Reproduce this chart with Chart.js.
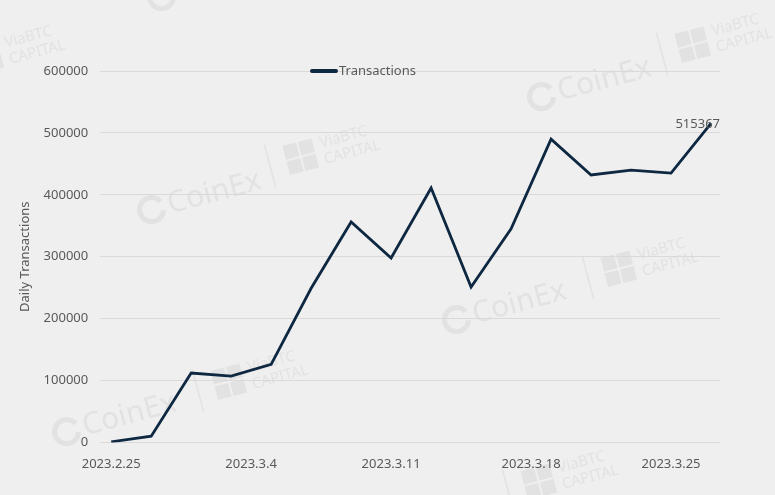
<!DOCTYPE html>
<html>
<head>
<meta charset="utf-8">
<script src="https://cdn.jsdelivr.net/npm/chart.js@4"></script>
<style>
  html, body { margin: 0; padding: 0; background: #efefef; }
  #wrap { width: 775px; height: 495px; position: relative; }
</style>
</head>
<body>
<div id="wrap"><canvas id="txChart"></canvas></div>
<script>
// days since 2023.2.25 (one reading every 2 days)
const dayOffsets = [0, 2, 4, 6, 8, 10, 12, 14, 16, 18, 20, 22, 24, 26, 28, 30];
const transactions = [1000, 10000, 112000, 107000, 126000, 249000, 356000, 298000,
                      411000, 251000, 345000, 490000, 432000, 440000, 435000, 515367];
const tickDays = [0, 7, 14, 21, 28];
const tickLabels = ['2023.2.25', '2023.3.4', '2023.3.11', '2023.3.18', '2023.3.25'];

const textColor = '#595959';
const lineColor = '#0e2841';
const fontFamily = '"Noto Sans", Roboto, sans-serif';

// faint watermarks behind the chart
const watermarkPlugin = {
  id: 'watermarks',
  beforeDraw(chart) {
    const c = chart.ctx;
    const marks = [
      ['coinex', 195, 198], ['via', 330, 150],
      ['coinex', 500, 308], ['via', 648, 262],
      ['coinex', 585, 85], ['via', 722, 38],
      ['coinex', 110, 420], ['via', 258, 375],
      ['via', 15, 50], ['via', 568, 475], ['coinex', 205, -15]
    ];
    c.save();
    marks.forEach(([kind, x, y]) => {
      c.save();
      c.translate(x, y);
      c.rotate(-0.26);
      c.fillStyle = '#e2e2e2';
      c.strokeStyle = '#e2e2e2';
      if (kind === 'coinex') {
        c.lineWidth = 5;
        c.beginPath();
        c.arc(-45, 0, 12, 0.3, Math.PI * 1.85);
        c.stroke();
        c.font = '30px ' + fontFamily;
        c.textBaseline = 'middle';
        c.fillText('CoinEx', -28, 0);
      } else {
        c.fillRect(-45, -16, 14, 14);
        c.fillRect(-29, -16, 14, 14);
        c.fillRect(-45, 0, 14, 14);
        c.fillRect(-29, 0, 14, 14);
        c.font = '15px ' + fontFamily;
        c.textBaseline = 'middle';
        c.fillText('ViaBTC', -8, -9);
        c.fillText('CAPITAL', -8, 8);
        c.lineWidth = 1.5;
        c.beginPath();
        c.moveTo(-62, -22);
        c.lineTo(-62, 22);
        c.stroke();
      }
      c.restore();
    });
    c.restore();
  }
};

// legend line + label and the last value tag
const labelsPlugin = {
  id: 'extraLabels',
  afterDraw(chart) {
    const c = chart.ctx;
    c.save();
    c.strokeStyle = lineColor;
    c.lineWidth = 4;
    c.lineCap = 'round';
    c.beginPath();
    c.moveTo(312, 71);
    c.lineTo(336, 71);
    c.stroke();
    c.font = '13px ' + fontFamily;
    c.fillStyle = textColor;
    c.textBaseline = 'middle';
    c.textAlign = 'left';
    c.fillText('Transactions', 339, 71);

    const meta = chart.getDatasetMeta(0);
    const last = meta.data[meta.data.length - 1];
    c.textAlign = 'right';
    c.fillText(String(transactions[transactions.length - 1]), last.x + 9, last.y + 1);
    c.restore();
  }
};

new Chart(document.getElementById('txChart'), {
  type: 'line',
  data: {
    datasets: [{
      label: 'Transactions',
      data: dayOffsets.map((d, i) => ({ x: d, y: transactions[i] })),
      borderColor: lineColor,
      borderWidth: 2.8,
      pointRadius: 0,
      tension: 0,
      fill: false
    }]
  },
  options: {
    responsive: true,
    maintainAspectRatio: false,
    animation: false,
    layout: { padding: { top: 71, right: 55, bottom: 17, left: 0 } },
    plugins: {
      legend: { display: false },
      tooltip: { enabled: false }
    },
    scales: {
      x: {
        type: 'linear',
        min: -0.55,
        max: 30.45,
        afterBuildTicks: (axis) => {
          axis.ticks = tickDays.map(v => ({ value: v }));
        },
        ticks: {
          autoSkip: false,
          maxRotation: 0,
          color: textColor,
          font: { family: fontFamily, size: 13 },
          padding: 6,
          callback: (v) => tickLabels[tickDays.indexOf(v)]
        },
        grid: { display: false },
        border: { display: false }
      },
      y: {
        min: 0,
        max: 600000,
        ticks: {
          stepSize: 100000,
          color: textColor,
          font: { family: fontFamily, size: 13 },
          padding: 12,
          callback: (v) => String(v)
        },
        grid: { color: '#d9d9d9', lineWidth: 1, drawTicks: false },
        border: { display: false },
        title: {
          display: true,
          text: 'Daily Transactions',
          color: textColor,
          font: { family: fontFamily, size: 13 },
          padding: { top: 17, bottom: -1 }
        }
      }
    }
  },
  plugins: [watermarkPlugin, labelsPlugin]
});
</script>
</body>
</html>
